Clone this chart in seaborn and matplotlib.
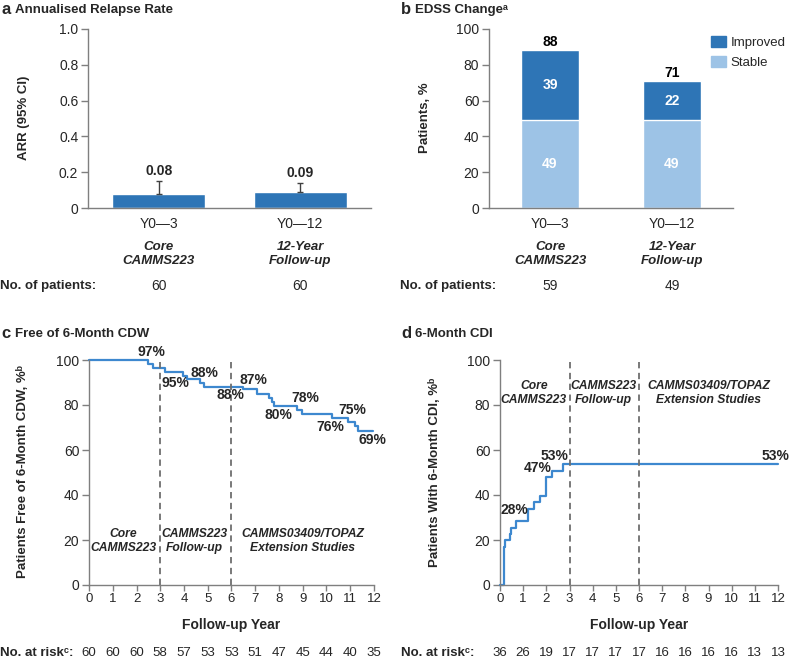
import numpy as np
import pandas as pd
import matplotlib
matplotlib.use('Agg')
import matplotlib.pyplot as plt
import matplotlib.patches as mpatches
import seaborn as sns

sns.set_theme(style='white')
plt.rcParams['font.family'] = ['Liberation Sans', 'DejaVu Sans']

# ---- data ----
periods = ['Y0—3', 'Y0—12']
studies = ['Core\nCAMMS223', '12-Year\nFollow-up']

arr = [0.08, 0.09]
arr_ci_upper = [0.15, 0.14]
arr_labels = ['0.08', '0.09']
arr_n = [60, 60]

edss_stable = [49, 49]
edss_improved = [39, 22]
edss_n = [59, 49]

years = list(range(13))

cdw_time = [0, 2.47, 2.71, 3.2, 3.97, 4.11, 4.67, 4.84, 6.5, 7.06, 7.59, 7.69, 7.79,
            8.74, 8.95, 10.22, 10.92, 11.2, 11.34, 11.97]
cdw_free = [100, 98.2, 96.6, 94.8, 93.0, 91.4, 89.8, 88.1, 87.0, 84.9, 83.0, 81.2, 79.7,
            77.8, 76.0, 74.1, 72.3, 70.5, 68.4, 68.4]
cdw_at_risk = [60, 60, 60, 58, 57, 53, 53, 51, 47, 45, 44, 40, 35]

cdi_time = [0, 0.17, 0.19, 0.23, 0.43, 0.47, 0.69, 1.21, 1.47, 1.71, 1.97, 2.24, 2.71, 12.0]
cdi_pct = [0, 3, 17, 20, 22.5, 25.5, 28.4, 33.6, 36.7, 39.7, 47.9, 50.7, 53.6, 53.6]
cdi_at_risk = [36, 26, 19, 17, 17, 17, 17, 16, 16, 16, 16, 13, 13]

# ---- style ----
dark_blue = '#2E75B6'
light_blue = '#9DC3E6'
line_blue = '#3D88CF'
axis_grey = '#7F7F7F'
text_col = '#262626'

W, H = 789, 663
fig = plt.figure(figsize=(W / 100, H / 100), dpi=100)


def add_ax(l, t, r, b):
    return fig.add_axes([l / W, 1 - b / H, (r - l) / W, (b - t) / H])


def ftext(x, y, s, **kw):
    kw.setdefault('color', text_col)
    fig.text(x / W, 1 - y / H, s, **kw)


def style_ax(ax, xticks=False):
    sns.despine(ax=ax)
    for sp in ['left', 'bottom']:
        ax.spines[sp].set_color(axis_grey)
        ax.spines[sp].set_linewidth(1)
    ax.tick_params(axis='y', left=True, length=5, width=1, color=axis_grey,
                   labelsize=10, labelcolor=text_col, pad=2)
    if xticks:
        ax.tick_params(axis='x', bottom=True, length=4, width=1, color=axis_grey,
                       labelsize=9.5, labelcolor=text_col, pad=2)
    ax.set_xlabel('')
    ax.set_ylabel('')


# ---- panel a ----
ax_a = add_ax(88, 29, 371, 208)
df_a = pd.DataFrame({'period': periods, 'arr': arr})
sns.barplot(data=df_a, x='period', y='arr', color=dark_blue, width=0.655,
            saturation=1, errorbar=None, ax=ax_a)
upper = np.array(arr_ci_upper) - np.array(arr)
ax_a.errorbar(range(len(arr)), arr, yerr=[np.zeros(len(arr)), upper], fmt='none',
              ecolor='#404040', elinewidth=1, capsize=2.5, capthick=1)
for i, lab in enumerate(arr_labels):
    ax_a.text(i, arr_ci_upper[i] + 0.055, lab, ha='center', va='center',
              fontsize=10, fontweight='bold', color=text_col)
ax_a.set_xlim(-0.5, 1.5)
ax_a.set_ylim(0, 1)
ax_a.set_yticks(np.arange(0, 1.01, 0.2))
ax_a.set_yticklabels(['0', '0.2', '0.4', '0.6', '0.8', '1.0'])
ax_a.set_xticks([])
style_ax(ax_a)

# ---- panel b ----
ax_b = add_ax(489, 29, 733, 208)
df_b = pd.DataFrame({'period': periods, 'stable': edss_stable,
                     'total': np.add(edss_stable, edss_improved)})
sns.barplot(data=df_b, x='period', y='total', color=dark_blue, width=0.475,
            saturation=1, errorbar=None, ax=ax_b)
sns.barplot(data=df_b, x='period', y='stable', color=light_blue, width=0.475,
            saturation=1, errorbar=None, ax=ax_b)
for i in range(len(periods)):
    tot = edss_stable[i] + edss_improved[i]
    ax_b.text(i, tot + 4.5, str(tot), ha='center', va='center', fontsize=10,
              fontweight='bold', color='black')
    ax_b.text(i, edss_stable[i] + edss_improved[i] / 2, str(edss_improved[i]),
              ha='center', va='center', fontsize=10, fontweight='bold', color='white')
    ax_b.text(i, edss_stable[i] / 2, str(edss_stable[i]), ha='center', va='center',
              fontsize=10, fontweight='bold', color='white')
ax_b.set_xlim(-0.5, 1.5)
ax_b.set_ylim(0, 100)
ax_b.set_yticks(range(0, 101, 20))
ax_b.set_xticks([])
style_ax(ax_b)
handles = [mpatches.Patch(color=dark_blue, label='Improved'),
           mpatches.Patch(color=light_blue, label='Stable')]
ax_b.legend(handles=handles, loc='upper left', bbox_to_anchor=(711 / W, 1 - 36 / H),
            bbox_transform=fig.transFigure, frameon=False, fontsize=9.5,
            handlelength=1.15, handleheight=0.9, handletextpad=0.35,
            borderaxespad=0, borderpad=0, labelspacing=0.55)

# category labels under a and b
for ax, n in [(ax_a, arr_n), (ax_b, edss_n)]:
    trans = ax.get_xaxis_transform()
    for i in range(len(periods)):
        ax.text(i, (208 - 224) / 179, periods[i], transform=trans, ha='center',
                va='center', fontsize=10, color=text_col)
        ax.text(i, (208 - 254) / 179, studies[i], transform=trans, ha='center',
                va='center', fontsize=9.5, fontweight='bold', fontstyle='italic',
                color=text_col, linespacing=1.15)
        ax.text(i, (208 - 286) / 179, str(n[i]), transform=trans, ha='center',
                va='center', fontsize=10, color=text_col)
ftext(0, 286, 'No. of patients:', ha='left', va='center', fontsize=9.5, fontweight='bold')
ftext(400, 286, 'No. of patients:', ha='left', va='center', fontsize=9.5, fontweight='bold')

# titles and y labels for a and b
ftext(1, 10, 'a', ha='left', va='center', fontsize=12, fontweight='bold')
ftext(15, 10, 'Annualised Relapse Rate', ha='left', va='center', fontsize=9.5, fontweight='bold')
ftext(401, 10, 'b', ha='left', va='center', fontsize=12, fontweight='bold')
ftext(415, 10, 'EDSS Changeᵃ', ha='left', va='center', fontsize=9.5, fontweight='bold')
ftext(24, 118, 'ARR (95% CI)', ha='center', va='center', rotation=90,
      fontsize=9.5, fontweight='bold')
ftext(425, 118, 'Patients, %', ha='center', va='center', rotation=90,
      fontsize=9.5, fontweight='bold')

# ---- panels c and d ----
ax_c = add_ax(89, 360, 374, 585)
ax_d = add_ax(500, 360, 778, 585)

df_c = pd.DataFrame({'year': cdw_time, 'pct': cdw_free})
df_d = pd.DataFrame({'year': cdi_time, 'pct': cdi_pct})
sns.lineplot(data=df_c, x='year', y='pct', drawstyle='steps-post', color=line_blue,
             linewidth=1.6, ax=ax_c)
sns.lineplot(data=df_d, x='year', y='pct', drawstyle='steps-post', color=line_blue,
             linewidth=1.6, ax=ax_d)

region_names = ['Core\nCAMMS223', 'CAMMS223\nFollow-up', 'CAMMS03409/TOPAZ\nExtension Studies']
for ax, reg_y, at_risk, left_px in [(ax_c, 19.5, cdw_at_risk, 0),
                                    (ax_d, 85.5, cdi_at_risk, 401)]:
    for ln in ax.lines:
        ln.set_clip_on(False)
    for xv in [3, 6]:
        ax.axvline(xv, color='#6E6E6E', linestyle=(0, (3.5, 2.5)), linewidth=1.3)
    ax.set_xlim(0, 12)
    ax.set_ylim(0, 100)
    ax.set_xticks(years)
    ax.set_yticks(range(0, 101, 20))
    style_ax(ax, xticks=True)
    for xc, name in zip([1.46, 4.45, 9.0], region_names):
        ax.text(xc, reg_y, name, ha='center', va='center', fontsize=8.7,
                fontweight='bold', fontstyle='italic', color=text_col, linespacing=1.2)
    trans = ax.get_xaxis_transform()
    for yr, n in zip(years, at_risk):
        ax.text(yr, (585 - 653) / 225, str(n), transform=trans, ha='center',
                va='center', fontsize=9.5, color=text_col)
    ftext(left_px, 653, 'No. at riskᶜ:', ha='left', va='center', fontsize=9.5,
          fontweight='bold')

cdw_marks = [('97%', 2.62, 103.5), ('95%', 3.62, 89.6), ('88%', 4.84, 94.1),
             ('88%', 5.94, 84.4), ('87%', 6.92, 91.1), ('80%', 7.97, 75.6),
             ('78%', 9.09, 83.0), ('76%', 10.15, 70.1), ('75%', 11.1, 77.8),
             ('69%', 11.94, 64.4)]
for s, xv, yv in cdw_marks:
    ax_c.text(xv, yv, s, ha='center', va='center', fontsize=10, fontweight='bold',
              color=text_col)
cdi_marks = [('28%', 0.62, 33.2), ('47%', 1.62, 52.0), ('53%', 2.37, 57.5),
             ('53%', 11.9, 57.5)]
for s, xv, yv in cdi_marks:
    ax_d.text(xv, yv, s, ha='center', va='center', fontsize=10, fontweight='bold',
              color=text_col)

ftext(231, 625, 'Follow-up Year', ha='center', va='center', fontsize=10, fontweight='bold')
ftext(639, 625, 'Follow-up Year', ha='center', va='center', fontsize=10, fontweight='bold')

ftext(1, 334, 'c', ha='left', va='center', fontsize=12, fontweight='bold')
ftext(15, 334, 'Free of 6-Month CDW', ha='left', va='center', fontsize=9.5, fontweight='bold')
ftext(401, 334, 'd', ha='left', va='center', fontsize=12, fontweight='bold')
ftext(415, 334, '6-Month CDI', ha='left', va='center', fontsize=9.5, fontweight='bold')
ftext(23, 472, 'Patients Free of 6-Month CDW, %ᵇ', ha='center', va='center', rotation=90,
      fontsize=9.5, fontweight='bold')
ftext(435, 472, 'Patients With 6-Month CDI, %ᵇ', ha='center', va='center', rotation=90,
      fontsize=9.5, fontweight='bold')

fig.savefig('out.png', dpi=100)
